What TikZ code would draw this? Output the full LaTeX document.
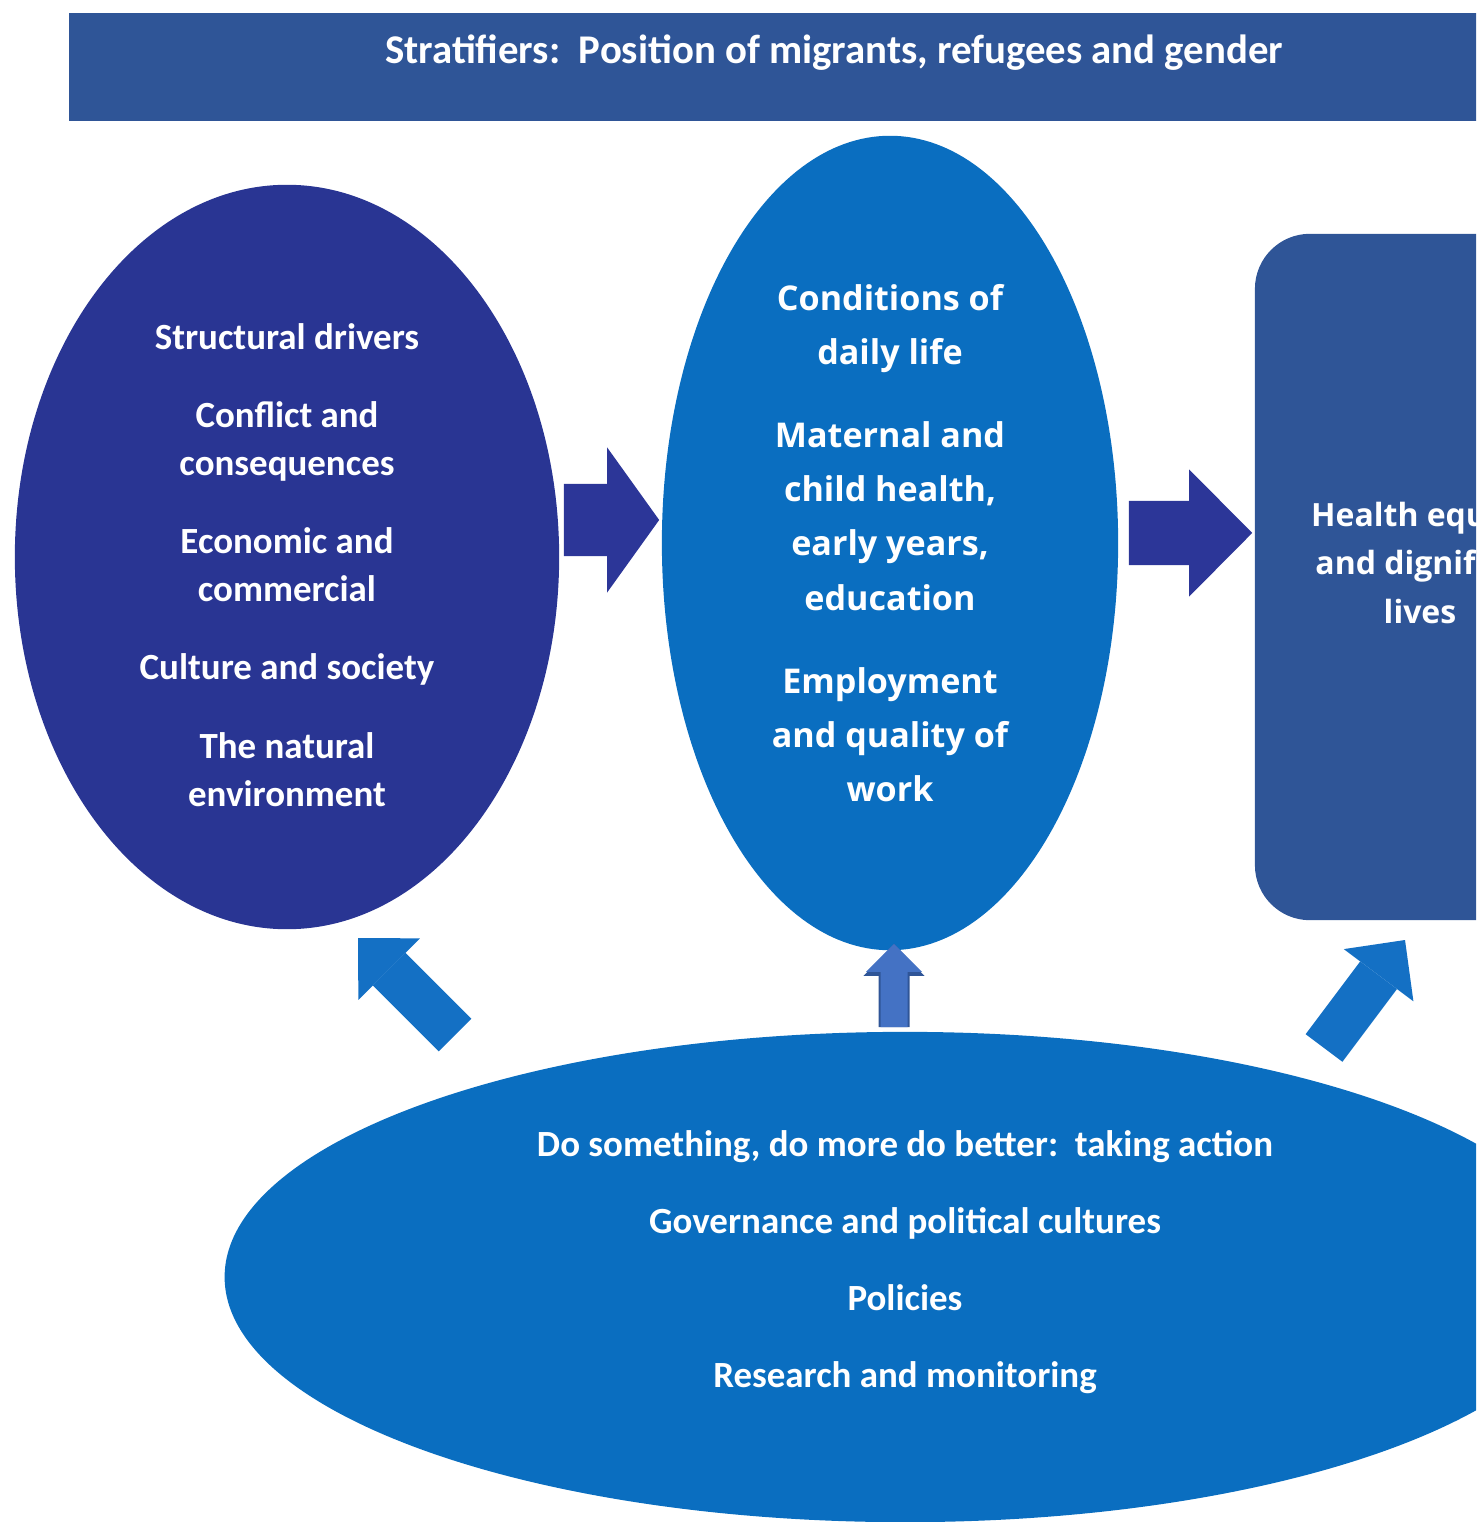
\documentclass[tikz,border=0pt]{standalone}
\usepackage{fontspec}
\setmainfont{Carlito}
\newfontfamily\segoe{Open Sans}
\usetikzlibrary{shapes.geometric, arrows.meta, positioning}
\definecolor{bandblue}{RGB}{47,85,151}
\definecolor{deepblue}{RGB}{41,53,147}
\definecolor{flowblue}{RGB}{44,54,152}
\definecolor{dailyblue}{RGB}{10,110,192}
\definecolor{tiltblue}{RGB}{20,112,196}
\definecolor{liftblue}{RGB}{68,114,196}
\tikzset{
    band/.style={rectangle,fill=bandblue,minimum width=15.3cm,minimum height=1.08cm,inner sep=0pt},
    bandtext/.style={text=white,font=\fontsize{11.6}{14}\selectfont\bfseries},
    driver/.style={ellipse,fill=deepblue,minimum width=5.44cm,minimum height=7.44cm,inner sep=0pt},
    drivertext/.style={text=white,align=center,font=\fontsize{10.5}{13.7}\selectfont\bfseries},
    daily/.style={ellipse,fill=dailyblue,minimum width=4.56cm,minimum height=8.14cm,inner sep=0pt,
        text=white,align=center,font=\segoe\fontsize{9.7}{15.4}\selectfont\bfseries},
    outcome/.style={rectangle,rounded corners=0.55cm,fill=bandblue,minimum width=3.3cm,minimum height=6.86cm},
    outcometext/.style={text=white,align=center,font=\segoe\fontsize{9.1}{13.8}\selectfont\bfseries},
    action/.style={ellipse,fill=dailyblue,minimum width=13.6cm,minimum height=4.9cm,inner sep=0pt},
    actiontext/.style={text=white,align=center,font=\fontsize{10.5}{13.7}\selectfont\bfseries},
    flowA/.style={draw=flowblue,line width=0.72cm,line cap=butt,
        -{Triangle[length=0.52cm,width=1.45cm,line width=0pt]}},
    flowB/.style={draw=flowblue,line width=0.64cm,line cap=butt,
        -{Triangle[length=0.63cm,width=1.27cm,line width=0pt]}},
    tilt/.style={draw=tiltblue,line width=0.46cm,line cap=butt,
        -{Triangle[length=0.44cm,width=0.87cm,line width=0pt]}},
    lift/.style={draw=liftblue,line width=0.27cm,line cap=butt,
        -{Triangle[length=0.28cm,width=0.56cm,line width=0pt]},
        preaction={draw=bandblue,line width=0.31cm,
        -{Triangle[length=0.32cm,width=0.61cm,line width=0pt]}}},
}
\begin{document}
\begin{tikzpicture}[x=0.01cm,y=-0.01cm]
    \useasboundingbox (0,0) rectangle (1476,1522);
    \clip (0,0) rectangle (1476,1522);

    \node[band,anchor=north west] (strat) at (68,12) {};
    \node[bandtext] (title) at ([yshift=-0.41cm]strat.north) {Stratifiers:\ \ Position of migrants, refugees and gender};

    \node[driver] (drivers) at (287,557) {};
    \node[drivertext] (driverstext) at ([yshift=-0.08cm]drivers.center) {Structural drivers\\[8.5pt] Conflict and\\ consequences\\[8.5pt]
        Economic and\\ commercial\\[8.5pt] Culture and society\\[8.5pt] The natural\\ environment};
    \node[daily] (daily) at (890,543) {Conditions of\\ daily life\\[8.3pt] Maternal and\\ child health,\\
        early years,\\ education\\[8.3pt] Employment\\ and quality of\\ work};
    \node[outcome] (equity) at (1420,577) {};
    \node[outcometext] (equitytext) at ([yshift=0.14cm]equity.center) {Health equity\\ and dignified\\ lives};

    \node[action] (act) at (905,1277) {};
    \node[actiontext] (acttext) at ([yshift=0.15cm]act.center) {Do something, do more do better:\ \ taking action\\[8.2pt]
        Governance and political cultures\\[8.2pt] Policies\\[8.2pt] Research and monitoring};

    \coordinate (tiltLa) at (455,1035);
    \coordinate (tiltLb) at (358,938);
    \coordinate (tiltRa) at (1324,1048);
    \coordinate (tiltRb) at (1405,940);

    \draw[flowA,shorten <=0.04cm,shorten >=0.02cm] ([yshift=0.37cm]drivers.east) -- ([yshift=0.23cm]daily.west);
    \draw[flowB,shorten <=0.10cm,shorten >=0.02cm] ([yshift=0.10cm]daily.east) -- ([yshift=0.44cm]equity.west);
    \draw[lift,shorten <=0.04cm,shorten >=-0.07cm] ([xshift=-0.11cm]act.north) -- ([xshift=0.04cm]daily.south);
    \draw[tilt] (tiltLa) -- (tiltLb);
    \draw[tilt] (tiltRa) -- (tiltRb);
\end{tikzpicture}
\end{document}
